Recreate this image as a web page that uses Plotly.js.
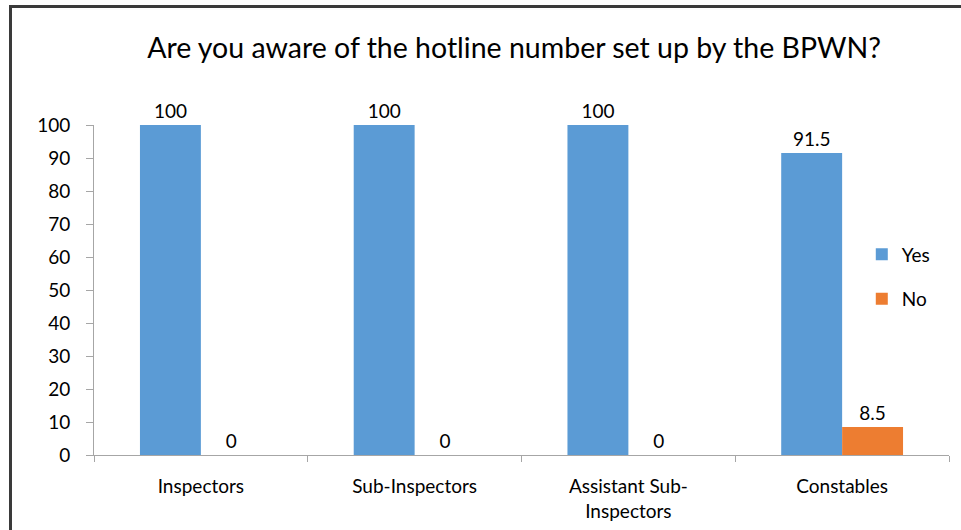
<!DOCTYPE html>
<html>
<head>
<meta charset="utf-8">
<script src="https://cdn.plot.ly/plotly-3.0.1.min.js"></script>
<style>
html,body{margin:0;padding:0;background:#fff;}
#chart{width:961px;height:530px;position:relative;}
#frame{position:absolute;left:9px;top:5px;width:1000px;height:600px;border:3px solid #3a3a3a;pointer-events:none;box-sizing:border-box;}
</style>
</head>
<body>
<div style="position:relative;width:961px;height:530px;overflow:hidden;">
<div id="chart"></div>
<div id="frame"></div>
</div>
<script>
const categories = ["Inspectors", "Sub-Inspectors", "Assistant Sub-<br>Inspectors", "Constables"];
const yesValues = [100, 100, 100, 91.5];
const noValues = [0, 0, 0, 8.5];
const seriesNames = ["Yes", "No"];
const tickVals = [0, 10, 20, 30, 40, 50, 60, 70, 80, 90, 100];

const fontFam = "Lato, 'Open Sans', sans-serif";
const fs = 19;
const traces = [
  {type:'bar', name:seriesNames[0], x:categories, y:yesValues, marker:{color:'#5b9bd5'},
   text:yesValues.map(String), textposition:'outside', cliponaxis:false, legendgroup:'a',
   textfont:{family:fontFam, size:fs, color:'#000'}},
  {type:'bar', name:seriesNames[1], x:categories, y:noValues, marker:{color:'#ed7d31'},
   text:noValues.map(String), textposition:'outside', cliponaxis:false, legendgroup:'b',
   textfont:{family:fontFam, size:fs, color:'#000'}}
];
const layout = {
  width:961, height:530,
  margin:{l:94, r:12, t:125, b:75},
  paper_bgcolor:'#fff', plot_bgcolor:'#fff',
  font:{family:fontFam, size:fs, color:'#000'},
  title:{text:'Are you aware of the hotline number set up by the BPWN?', font:{family:fontFam, size:28.5, color:'#000'}, x:0.535, xanchor:'center', y:0.91, yanchor:'middle'},
  barmode:'group', bargap:0.43, bargroupgap:0,
  showlegend:true,
  legend:{x:0.898, y:0.54, xanchor:'left', yanchor:'middle', traceorder:'grouped', tracegroupgap:17, font:{family:fontFam, size:fs, color:'#000'}, itemwidth:30, bgcolor:'rgba(0,0,0,0)'},
  xaxis:{type:'category', showline:true, linecolor:'#a6a6a6', linewidth:1, ticks:'outside', tickson:'boundaries', ticklen:6, tickcolor:'#a6a6a6', showgrid:false, zeroline:false, ticklabelstandoff:14, tickfont:{family:fontFam, size:fs, color:'#000'}},
  yaxis:{range:[0,100], tickvals:tickVals, showline:true, linecolor:'#a6a6a6', linewidth:1, ticks:'outside', ticklen:7, tickcolor:'#a6a6a6', showgrid:false, zeroline:false, ticklabelstandoff:12, tickfont:{family:fontFam, size:fs, color:'#000'}}
};
Plotly.newPlot('chart', traces, layout, {displayModeBar:false, staticPlot:true});
</script>
</body>
</html>
